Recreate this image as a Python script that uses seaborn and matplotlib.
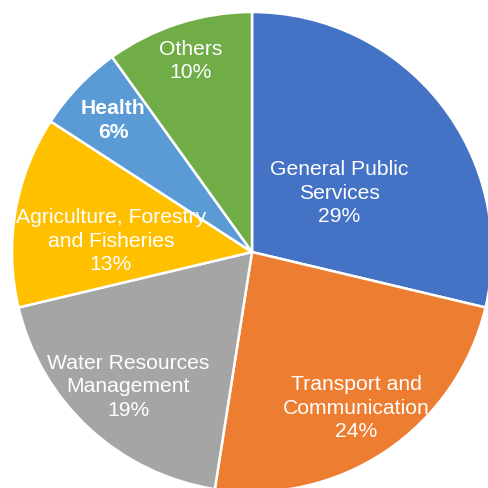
import numpy as np
import matplotlib
matplotlib.use("Agg")
import matplotlib.pyplot as plt
import seaborn as sns

# Budget share by sector (percent)
sectors = [
    "General Public\nServices",
    "Transport and\nCommunication",
    "Water Resources\nManagement",
    "Agriculture, Forestry\nand Fisheries",
    "Health",
    "Others",
]
shares = [29, 24, 19, 13, 6, 10]
colors = ["#4472C4", "#ED7D31", "#A5A5A5", "#FFC000", "#5B9BD5", "#70AD47"]

# label placement: radial fraction of the radius and small angular nudge (deg)
label_radius = [0.44, 0.78, 0.76, 0.59, 0.80, 0.84]
label_nudge = [-4, 0, 0, 5, 0, 0]
label_bold = [False, False, False, False, True, False]

sns.set_theme(style="white")
plt.rcParams["font.family"] = ["Liberation Sans", "DejaVu Sans"]

fig = plt.figure(figsize=(4.88, 4.89), dpi=100)
ax = fig.add_axes([0, 0, 1, 1])
ax.set_axis_off()

palette = sns.color_palette(colors)
wedges, _ = ax.pie(
    shares,
    colors=palette,
    startangle=90,
    counterclock=False,
    radius=1.0,
    wedgeprops=dict(edgecolor="white", linewidth=1.8),
)

for w, name, val, r, nudge, bold in zip(
    wedges, sectors, shares, label_radius, label_nudge, label_bold
):
    mid = np.deg2rad((w.theta1 + w.theta2) / 2 + nudge)
    ax.text(
        r * np.cos(mid),
        r * np.sin(mid),
        f"{name}\n{val}%",
        ha="center",
        va="center",
        color="white",
        fontsize=15.2,
        fontweight="bold" if bold else "normal",
        linespacing=1.3,
    )

ax.set_aspect("auto")
ax.set_xlim(-1.05, 0.9833)
ax.set_ylim(-0.9833, 1.0542)

fig.savefig("out.png", dpi=100)
